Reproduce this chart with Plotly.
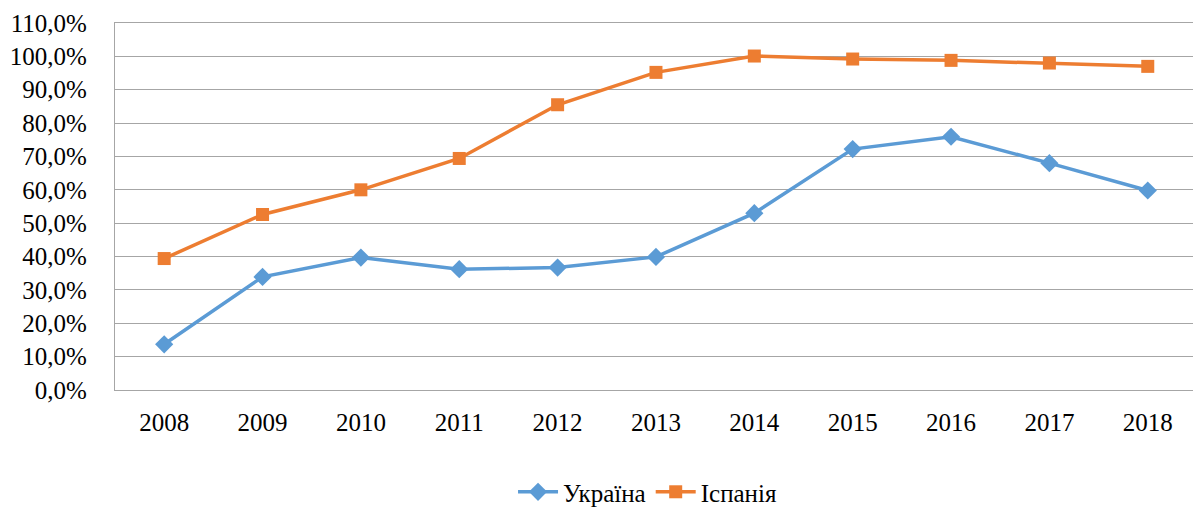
import plotly.graph_objects as go

years = ["2008", "2009", "2010", "2011", "2012", "2013", "2014", "2015", "2016", "2017", "2018"]
ukraine = [13.7, 33.9, 39.7, 36.2, 36.7, 39.9, 53.0, 72.2, 75.9, 68.0, 59.8]
spain = [39.4, 52.6, 60.0, 69.4, 85.5, 95.2, 100.1, 99.2, 98.8, 98.0, 97.0]
y_ticks = [0, 10, 20, 30, 40, 50, 60, 70, 80, 90, 100, 110]
y_tick_labels = ["0,0%", "10,0%", "20,0%", "30,0%", "40,0%", "50,0%", "60,0%",
                 "70,0%", "80,0%", "90,0%", "100,0%", "110,0%"]

FONT = "Liberation Serif"
GRID = "#A6A6A6"

fig = go.Figure()
fig.add_trace(go.Scatter(
    x=years, y=ukraine, name="Україна", mode="lines+markers",
    line=dict(color="#5B9BD5", width=3.5),
    marker=dict(symbol="diamond", size=14, color="#5B9BD5"),
))
fig.add_trace(go.Scatter(
    x=years, y=spain, name="Іспанія", mode="lines+markers",
    line=dict(color="#ED7D31", width=3.5),
    marker=dict(symbol="square", size=13, color="#ED7D31"),
))

fig.update_layout(
    width=1193, height=508,
    autosize=False,
    margin=dict(l=115, r=0, t=23, b=118, autoexpand=False),
    paper_bgcolor="white", plot_bgcolor="white",
    font=dict(family=FONT, size=25, color="#000000"),
    showlegend=True,
    legend=dict(orientation="h", x=0.494, xanchor="center", y=-0.278, yanchor="middle",
                font=dict(family=FONT, size=25, color="#000000"),
                itemwidth=40, traceorder="normal"),
    xaxis=dict(
        type="category", range=[-0.5, 10.46],
        showgrid=False, zeroline=False,
        showline=True, linecolor=GRID, linewidth=1.3, mirror=True,
        ticks="outside", ticklen=10, tickcolor="rgba(0,0,0,0)",
        tickfont=dict(family=FONT, size=25, color="#000000"),
        fixedrange=True, automargin=False,
    ),
    yaxis=dict(
        range=[0, 110],
        tickvals=y_ticks, ticktext=y_tick_labels,
        showgrid=True, gridcolor=GRID, gridwidth=1.3,
        zeroline=False,
        showline=True, linecolor=GRID, linewidth=1.3,
        ticks="outside", ticklen=22, tickcolor="rgba(0,0,0,0)",
        tickfont=dict(family=FONT, size=25, color="#000000"),
        fixedrange=True, automargin=False,
    ),
)

fig.write_html("out.html", config={"responsive": False, "displayModeBar": False},
               post_script="document.body.style.margin='0';document.body.style.overflow='hidden';")
